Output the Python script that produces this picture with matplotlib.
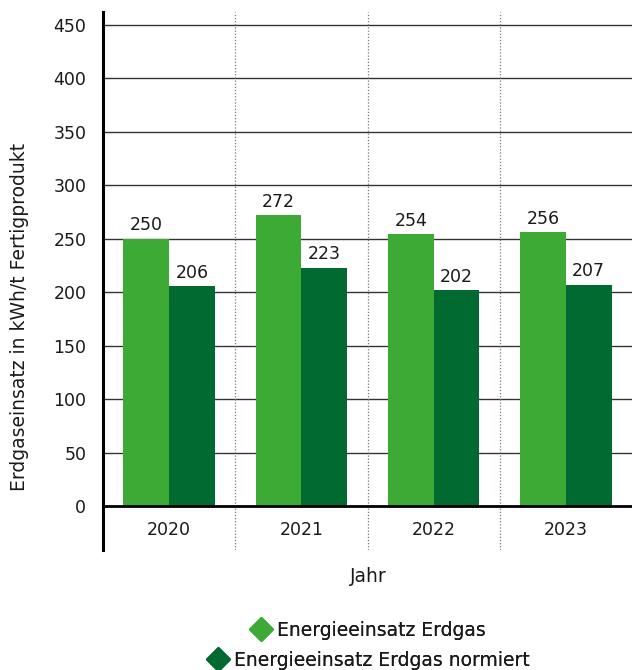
import matplotlib
matplotlib.use("Agg")
import matplotlib.pyplot as plt
from matplotlib.lines import Line2D
import numpy as np

plt.rcParams['font.family'] = ['DejaVu Sans']

years = ["2020", "2021", "2022", "2023"]
erdgas = [250, 272, 254, 256]
erdgas_norm = [206, 223, 202, 207]
series_names = ["Energieeinsatz Erdgas", "Energieeinsatz Erdgas normiert"]
yticks = [0, 50, 100, 150, 200, 250, 300, 350, 400, 450]

c_light = "#3DAA35"
c_dark = "#006A31"
txt = "#1a1a1a"
fs_num = 12.5
fs_txt = 13.5

fig = plt.figure(figsize=(6.33, 6.70), dpi=100)
ax = fig.add_axes([103/633, 1-550/670, 529/633, 538/670])

x = np.arange(len(years))
w = 0.345
b1 = ax.bar(x - w/2, erdgas, w, color=c_light, zorder=3)
b2 = ax.bar(x + w/2, erdgas_norm, w, color=c_dark, zorder=3)
for rect, v in zip(b1, erdgas):
    ax.text(rect.get_x() + rect.get_width()/2, v + 4, str(v), ha='center', va='bottom', fontsize=fs_num, color=txt, zorder=4)
for rect, v in zip(b2, erdgas_norm):
    ax.text(rect.get_x() + rect.get_width()/2, v + 4, str(v), ha='center', va='bottom', fontsize=fs_num, color=txt, zorder=4)

ax.set_xlim(-0.5, len(years) - 0.5)
ax.set_ylim(-41, 462)
ax.set_yticks(yticks)
ax.tick_params(axis='y', length=0, labelsize=fs_num, pad=12, labelcolor=txt)
ax.set_xticks([])
for yv in yticks[1:]:
    ax.axhline(yv, color='#333333', lw=1.0, zorder=1)
ax.axhline(0, color='black', lw=2.0, zorder=5)
for xb in np.arange(0.5, len(years) - 0.5, 1):
    ax.axvline(xb, color='#777777', lw=0.9, ls=(0, (1, 1.5)), zorder=1)
for xi, lab in zip(x, years):
    ax.text(xi, -22, lab, ha='center', va='center', fontsize=fs_num, color=txt)

for s in ['top', 'right', 'bottom']:
    ax.spines[s].set_visible(False)
ax.spines['left'].set_linewidth(2.2)
ax.spines['left'].set_color('black')

fig.text(20/633, 1-317/670, "Erdgaseinsatz in kWh/t Fertigprodukt", rotation=90, ha='center', va='center', fontsize=fs_txt, color=txt)
fig.text(368/633, 1-577/670, "Jahr", ha='center', va='center', fontsize=fs_txt, color=txt)

for name, col, yy in [(series_names[0], c_light, 630), (series_names[1], c_dark, 660)]:
    h = Line2D([], [], marker='D', color=col, ls='none', markersize=12)
    leg = fig.legend([h], [name], loc='center', bbox_to_anchor=(368/633, 1-yy/670), frameon=False,
                     fontsize=fs_txt, handletextpad=0.25, handlelength=1.2, borderpad=0, borderaxespad=0)
    for t in leg.get_texts():
        t.set_color(txt)
    fig.add_artist(leg)

fig.savefig("out.png", dpi=100)
